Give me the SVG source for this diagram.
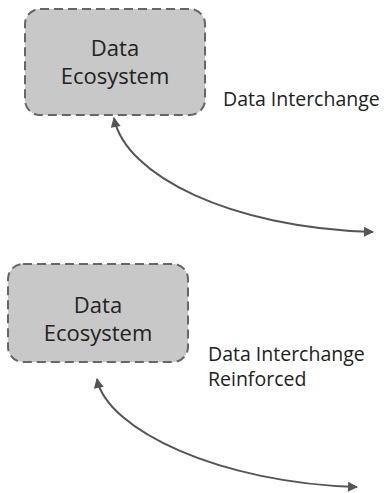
<svg xmlns="http://www.w3.org/2000/svg" width="389" height="493" viewBox="0 0 389 493">
  <style>
    .box { fill: #c8c8c8; stroke: #666666; stroke-width: 2; stroke-dasharray: 9 5; }
    .node-text { font-family: "Open Sans", Lato, sans-serif; font-size: 22px; fill: #222222; text-anchor: middle; }
    .label { font-family: "Open Sans", Lato, sans-serif; font-size: 19.5px; fill: #222222; }
    .link { fill: none; stroke: #555555; stroke-width: 2; }
  </style>
  <defs>
    <marker id="arrow" viewBox="0 0 10 10" refX="9" refY="5" markerWidth="12" markerHeight="10" markerUnits="userSpaceOnUse" orient="auto-start-reverse">
      <path d="M0,0 L10,5 L0,10 z" fill="#555555"/>
    </marker>
  </defs>

  <g id="ecosystem-1">
    <rect class="box" x="25" y="9" width="180" height="106" rx="15" ry="15"/>
    <text class="node-text" x="115" y="56">Data</text>
    <text class="node-text" x="115" y="84">Ecosystem</text>
  </g>

  <g id="ecosystem-2">
    <rect class="box" x="8" y="264" width="180" height="98" rx="15" ry="15"/>
    <text class="node-text" x="98" y="313">Data</text>
    <text class="node-text" x="98" y="341">Ecosystem</text>
  </g>

  <g id="connectors">
    <path class="link" d="M114,118 C125,175 230,228 373,232" marker-start="url(#arrow)" marker-end="url(#arrow)"/>
    <path class="link" d="M97,379 C107,430 220,483 357,487" marker-start="url(#arrow)" marker-end="url(#arrow)"/>
  </g>

  <g id="labels">
    <text class="label" x="223" y="106">Data Interchange</text>
    <text class="label" x="208" y="361">Data Interchange</text>
    <text class="label" x="208" y="386">Reinforced</text>
  </g>
</svg>
